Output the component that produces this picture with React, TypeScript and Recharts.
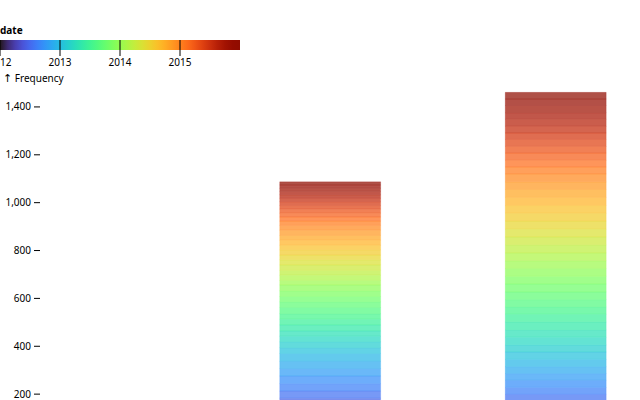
import { Bar, BarChart, XAxis, YAxis } from "recharts"

// date legend ticks (years) and y ticks
const legendYears = [2012, 2013, 2014, 2015]
const yTicks = [0, 200, 400, 600, 800, 1000, 1200, 1400]

// x position of each bin (bin 0 is below the visible window)
const binX = [1, 2]

// records per month, Jan 2012 .. Dec 2015, stacked bottom to top
const binMid = [
  31, 30, 29, 31, 32, 30, 30, 31, 32, 31, 30, 33,
  24, 25, 23, 22, 25, 24, 23, 26, 24, 22, 24, 24,
  19, 22, 20, 23, 21, 20, 22, 19, 21, 20, 22, 20,
  18, 17, 16, 17, 15, 16, 14, 15, 14, 13, 14, 13,
]
const binHigh = [
  28, 27, 29, 28, 30, 29, 28, 29, 30, 28, 29, 30,
  31, 30, 32, 31, 33, 32, 31, 30, 32, 33, 32, 33,
  32, 33, 34, 33, 32, 34, 33, 32, 34, 33, 32, 33,
  29, 28, 30, 28, 29, 27, 28, 29, 28, 30, 27, 28,
]

const series = [binMid, binHigh]
const monthKeys = binMid.map((_, i) => `m${i}`)

const data = binX.map((x, j) => {
  const row: Record<string, number> = { x }
  series[j].forEach((v, i) => (row[monthKeys[i]] = v))
  return row
})

// d3 turbo approximation
function turbo(t: number) {
  t = Math.max(0, Math.min(1, t))
  const c = (v: number) => Math.max(0, Math.min(255, Math.round(v)))
  const r = c(34.61 + t * (1172.33 - t * (10793.56 - t * (33300.12 - t * (38394.49 - t * 14825.05)))))
  const g = c(23.31 + t * (557.33 + t * (1225.33 - t * (3574.96 - t * (1073.77 + t * 707.56)))))
  const b = c(27.2 + t * (3211.1 - t * (15327.97 - t * (27814 - t * (22569.18 - t * 6838.66)))))
  return `rgb(${r},${g},${b})`
}

const font = "'Noto Sans', sans-serif"

function ColorLegend() {
  const stops = Array.from({ length: 33 }, (_, i) => i / 32)
  return (
    <svg width={250} height={70} style={{ position: "absolute", left: 0, top: 0, overflow: "visible" }} fontFamily={font} fontSize={10}>
      <defs>
        <linearGradient id="ramp" x1="0" x2="1" y1="0" y2="0">
          {stops.map((s) => (
            <stop key={s} offset={s} stopColor={turbo(s)} />
          ))}
        </linearGradient>
      </defs>
      <text x={0} y={34} fontWeight="bold">date</text>
      <rect x={0} y={40} width={240} height={10} fill="url(#ramp)" />
      {legendYears.map((yr, i) => (
        <g key={yr}>
          <line x1={i * 60} x2={i * 60} y1={40} y2={56} stroke="black" />
          <text x={i * 60} y={66} textAnchor="middle">{yr}</text>
        </g>
      ))}
    </svg>
  )
}

export default function App() {
  return (
    <div style={{ position: "absolute", left: 0, top: 0, width: 640, height: 400, overflow: "hidden", background: "white" }}>
      <div style={{ position: "absolute", left: 0, top: 0 }}>
        <BarChart width={640} height={480} data={data} barSize={101} margin={{ top: 83, right: 20, bottom: 38, left: 0 }}>
          <XAxis type="number" dataKey="x" domain={[-0.288, 2.284]} hide />
          <YAxis
            width={40}
            domain={[0, 1500]}
            ticks={yTicks}
            axisLine={false}
            tickSize={6}
            tickMargin={3}
            tickLine={{ stroke: "black" }}
            tick={{ fill: "black", fontSize: 10, fontFamily: font }}
            tickFormatter={(v) => v.toLocaleString("en-US")}
            label={{
              content: ({ viewBox }: any) => (
                <text x={viewBox.x + 3} y={viewBox.y - 1} fontSize={10} fontFamily={font} fill="black">
                  <tspan fontFamily="'DejaVu Sans', sans-serif" fontSize={11}>↑</tspan> Frequency
                </text>
              ),
            }}
          />
          {monthKeys.map((k, i) => (
            <Bar
              key={k}
              dataKey={k}
              stackId="d"
              fill={turbo((i + 0.5) / 48)}
              fillOpacity={0.72}
              stroke={turbo((i + 0.5) / 48)}
              strokeOpacity={0.35}
              strokeWidth={0.5}
              isAnimationActive={false}
            />
          ))}
        </BarChart>
      </div>
      <ColorLegend />
    </div>
  )
}
